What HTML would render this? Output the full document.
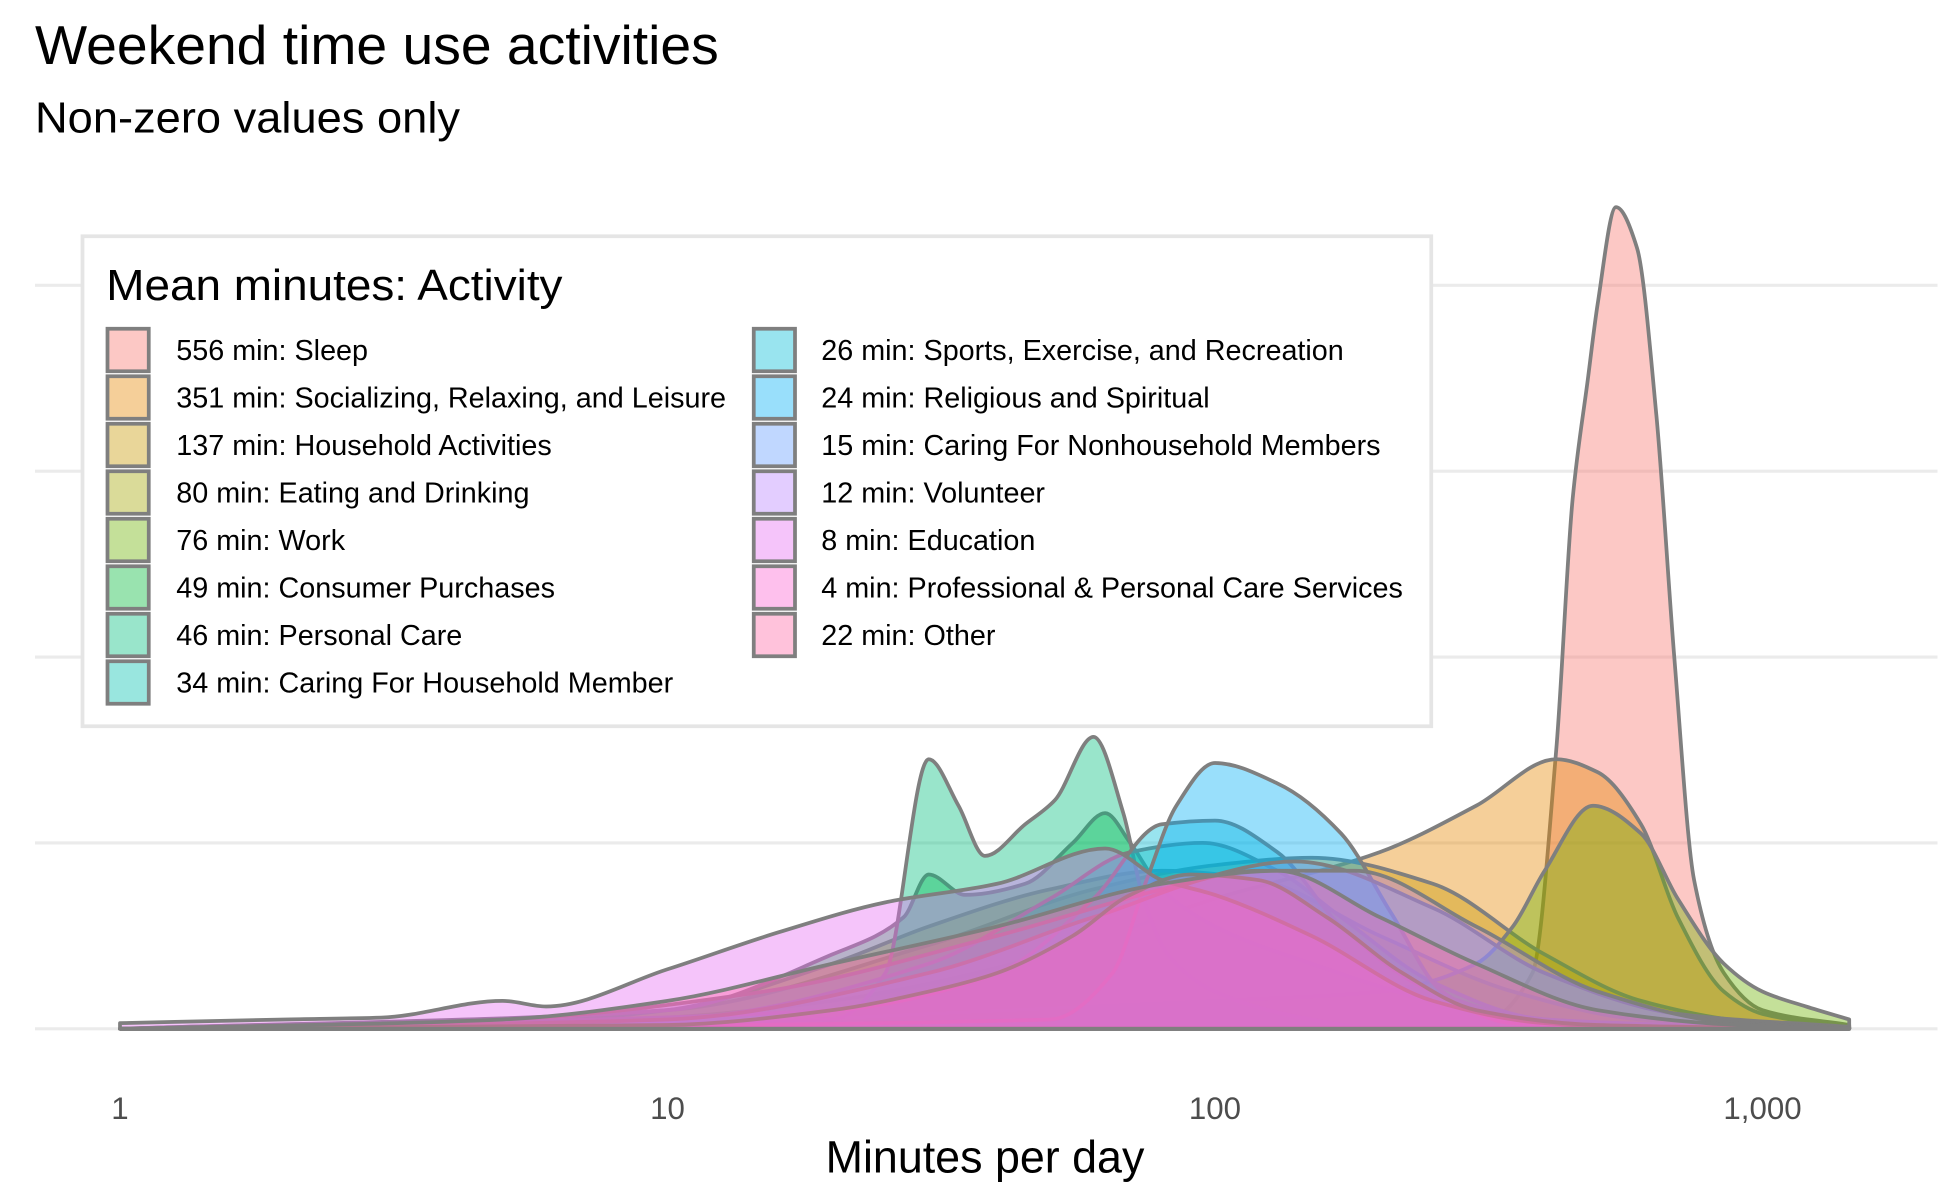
<!DOCTYPE html>
<html><head><meta charset="utf-8"><style>
html,body{margin:0;padding:0;background:#fff;}
svg{display:block;font-family:"Liberation Sans",Arial,sans-serif;}
</style></head><body>
<svg id="chart" width="1950" height="1200" viewBox="0 0 1560 960" xmlns="http://www.w3.org/2000/svg">
<text x="28" y="51" font-size="44" fill="#000" textLength="547" lengthAdjust="spacingAndGlyphs">Weekend time use activities</text>
<text x="28" y="106" font-size="35" fill="#000" textLength="340" lengthAdjust="spacingAndGlyphs">Non-zero values only</text>
<g id="grid"></g>
<g id="areas"></g>
<g id="xaxis"></g>
<text x="788" y="938" font-size="36" text-anchor="middle" fill="#000" textLength="255" lengthAdjust="spacingAndGlyphs">Minutes per day</text>
<g id="legend">
<rect x="66" y="189" width="1079" height="392" fill="#fff" stroke="#e5e5e5" stroke-width="3"/>
<text x="85" y="240" font-size="35" fill="#000" textLength="365" lengthAdjust="spacingAndGlyphs">Mean minutes: Activity</text>
</g>
</svg>
<script>
const labels = ["Sleep","Socializing, Relaxing, and Leisure","Household Activities","Eating and Drinking","Work","Consumer Purchases","Personal Care","Caring For Household Member","Sports, Exercise, and Recreation","Religious and Spiritual","Caring For Nonhousehold Members","Volunteer","Education","Professional & Personal Care Services","Other"];
const means = [556,351,137,80,76,49,46,34,26,24,15,12,8,4,22];
const colors = ["#F8766D","#E58700","#C99800","#A3A500","#6BB100","#00BA38","#00BF7D","#00C0AF","#00BCD8","#00B0F6","#619CFF","#B983FF","#E76BF3","#FD61D1","#FF67A4"];
const seriesMinutes = [
 [1,200,300,380,420,450,480,500,540,590,640,690,750,850,1000,1440],
 [1,5,10,20,50,100,200,300,420,500,600,700,850,1000,1440],
 [1,10,30,60,100,150,250,400,600,1000,1440],
 [1,5,10,20,30,50,80,120,200,350,600,1440],
 [1,10,30,60,100,200,300,350,400,490,600,700,850,1000,1200,1440],
 [1,10,20,27,30,35,45,55,63,70,80,100,150,250,400,600,1440],
 [1,20,25,30,34,38,45,51,60,68,74,82,100,150,200,1440],
 [1,10,30,50,70,95,130,170,250,400,1440],
 [1,20,40,60,80,100,130,170,250,400,1440],
 [1,50,65,75,85,100,130,170,210,260,350,1440],
 [1,5,15,40,80,140,250,400,700,1440],
 [1,10,30,60,120,180,300,500,900,1440],
 [1,2,3,5,6,10,16,25,40,63,80,100,150,250,400,700,1440],
 [1,10,20,30,40,55,70,90,120,160,220,300,500,1440],
 [1,5,10,20,40,80,130,200,300,500,900,1440]
];
const seriesDensity = [
 [0,0,0.02,0.3,1.5,2.85,3.5,3.9,4.42,4.2,3.3,2.0,0.8,0.3,0.1,0.02],
 [0,0.02,0.06,0.15,0.4,0.7,0.95,1.2,1.45,1.38,1.1,0.6,0.2,0.08,0.01],
 [0,0.1,0.45,0.75,0.88,0.92,0.78,0.4,0.15,0.03,0.01],
 [0,0.03,0.1,0.35,0.55,0.75,0.85,0.8,0.5,0.2,0.05,0],
 [0,0.02,0.08,0.12,0.15,0.2,0.35,0.55,0.85,1.2,1.05,0.7,0.35,0.2,0.12,0.05],
 [0,0.1,0.4,0.6,0.83,0.72,0.78,1.0,1.16,1.0,0.75,0.55,0.35,0.15,0.05,0,0],
 [0,0.05,0.3,1.45,1.2,0.93,1.1,1.23,1.57,1.16,0.7,0.4,0.2,0.05,0,0],
 [0,0.05,0.35,0.7,0.95,1.0,0.85,0.6,0.25,0.05,0],
 [0,0.1,0.3,0.7,1.1,1.12,0.95,0.55,0.2,0.05,0],
 [0,0.05,0.3,0.8,1.2,1.43,1.32,1.05,0.62,0.2,0.03,0],
 [0,0.05,0.2,0.5,0.75,0.9,0.65,0.3,0.08,0.01],
 [0,0.05,0.3,0.6,0.85,0.85,0.55,0.2,0.03,0.01],
 [0.03,0.05,0.06,0.15,0.12,0.32,0.52,0.68,0.78,0.97,0.8,0.72,0.5,0.15,0.03,0,0],
 [0,0.02,0.1,0.2,0.3,0.5,0.72,0.83,0.8,0.6,0.3,0.1,0.02,0],
 [0,0.05,0.15,0.35,0.55,0.78,0.85,0.6,0.35,0.1,0.02,0]
];
const tickValues = [1,10,100,1000];
const tickLabels = ["1","10","100","1,000"];
const gridValues = [0,1,2,3,4];

const NS="http://www.w3.org/2000/svg";
const x = m => 96 + 438*Math.log10(m);
const y = d => 823 - d*148.7;

const grid=document.getElementById('grid');
gridValues.forEach(v=>{
  const l=document.createElementNS(NS,'line');
  
  
  l.setAttribute('x1',28);l.setAttribute('x2',1550);
  l.setAttribute('y1',y(v));l.setAttribute('y2',y(v));
  l.setAttribute('stroke','#ebebeb');l.setAttribute('stroke-width','2.5');
  grid.appendChild(l);
});
const xa=document.getElementById('xaxis');
tickValues.forEach((v,i)=>{
  const t=document.createElementNS(NS,'text');
  
  
  t.setAttribute('x',x(v));t.setAttribute('y',895);
  t.setAttribute('font-size','25');t.setAttribute('fill','#4d4d4d');
  t.setAttribute('text-anchor','middle');
  t.textContent=tickLabels[i];
  xa.appendChild(t);
});

function monotonePath(px,py){
  const n=px.length, dx=[],s=[],m=[];
  for(let i=0;i<n-1;i++){dx[i]=px[i+1]-px[i];s[i]=(py[i+1]-py[i])/dx[i];}
  m[0]=s[0];m[n-1]=s[n-2];
  for(let i=1;i<n-1;i++){
    if(s[i-1]*s[i]<=0)m[i]=0;
    else{const w1=2*dx[i]+dx[i-1],w2=dx[i]+2*dx[i-1];m[i]=(w1+w2)/(w1/s[i-1]+w2/s[i]);}
  }
  let d='L'+px[0]+','+py[0];
  for(let i=0;i<n-1;i++){
    const h=dx[i]/3;
    d+='C'+(px[i]+h)+','+(py[i]+m[i]*h)+' '+(px[i+1]-h)+','+(py[i+1]-m[i+1]*h)+' '+px[i+1]+','+py[i+1];
  }
  return d;
}
const areas=document.getElementById('areas');
labels.forEach((lab,k)=>{
  const px=seriesMinutes[k].map(x), py=seriesDensity[k].map(y);
  const d='M'+px[0]+','+y(0)+monotonePath(px,py)+'L'+px[px.length-1]+','+y(0)+'Z';
  const p=document.createElementNS(NS,'path');
  
  
  p.setAttribute('d',d);
  p.setAttribute('fill',colors[k]);p.setAttribute('fill-opacity','0.4');
  p.setAttribute('stroke','#7f7f7f');p.setAttribute('stroke-width','3');
  p.setAttribute('stroke-linejoin','round');
  areas.appendChild(p);
});

const lg=document.getElementById('legend');
labels.forEach((lab,k)=>{
  const col=k<8?0:1, row=k<8?k:k-8;
  const kx=col?603:86, ky=263+row*38;
  const g=document.createElementNS(NS,'g');
  
  
  const bg=document.createElementNS(NS,'rect');
  bg.setAttribute('x',kx);bg.setAttribute('y',ky);bg.setAttribute('width',33);bg.setAttribute('height',34);
  bg.setAttribute('fill','#fff');
  g.appendChild(bg);
  const r=document.createElementNS(NS,'rect');
  
  
  r.setAttribute('x',kx);r.setAttribute('y',ky);r.setAttribute('width',33);r.setAttribute('height',34);
  r.setAttribute('fill',colors[k]);r.setAttribute('fill-opacity','0.4');
  r.setAttribute('stroke','#7f7f7f');r.setAttribute('stroke-width','3');
  g.appendChild(r);
  const t=document.createElementNS(NS,'text');
  
  
  t.setAttribute('x',col?657:141);t.setAttribute('y',ky+25);
  t.setAttribute('font-size','23');t.setAttribute('fill','#000');
  t.textContent=means[k]+' min: '+lab;
  g.appendChild(t);
  lg.appendChild(g);
});
</script>
</body></html>
